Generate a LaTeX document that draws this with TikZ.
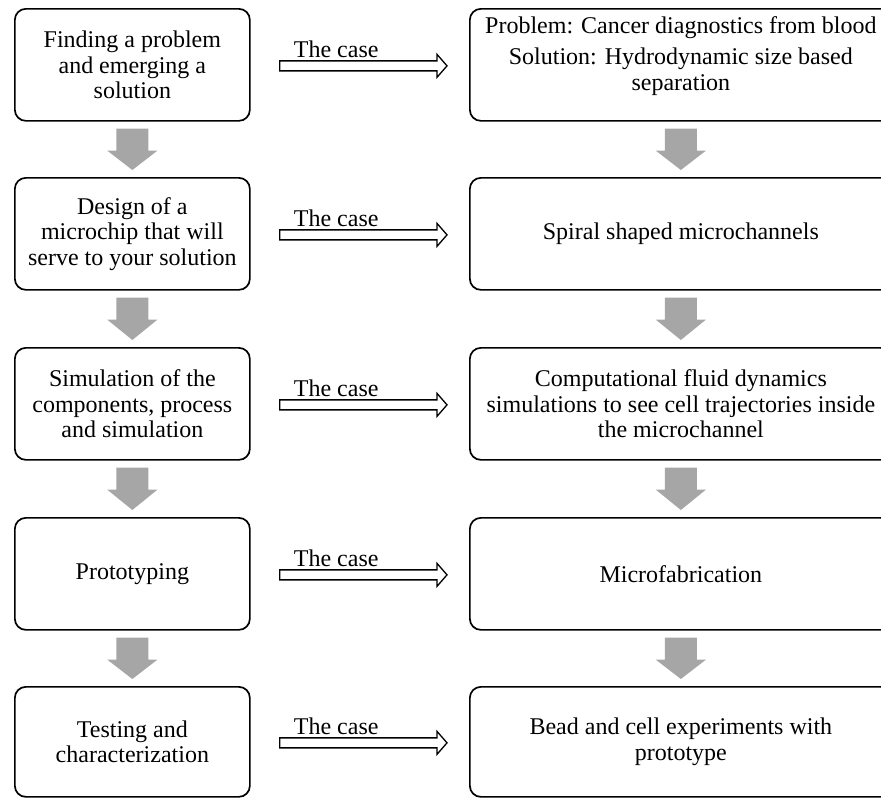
\documentclass[tikz,border=0pt]{standalone}
\usepackage{fontspec}
\setmainfont{Liberation Serif}
\usetikzlibrary{calc}
\definecolor{flowgray}{HTML}{A6A6A6}
\begin{document}
\begin{tikzpicture}[x=1pt,y=-1pt,
  stage/.style={draw=black, line width=1.7pt, rounded corners=11pt, align=center,
    anchor=north west, inner sep=0pt, font=\fontsize{24}{25.5}\selectfont},
  leftstage/.style={stage, minimum width=235pt, minimum height=112pt},
  rightstage/.style={stage, minimum width=422pt, minimum height=112pt},
  flowarrow/.style={fill=flowgray},
  casearrow/.style={draw=black, line width=1.3pt, fill=white, line join=miter},
  caselabel/.style={anchor=base west, inner sep=0pt, font=\fontsize{24}{26}\selectfont}]

\path[use as bounding box, clip] (0,0) rectangle (881,798);

% method steps (left column)
\node[leftstage] (L1) at (14,8)   {Finding a problem\\and emerging a\\solution};
\node[leftstage] (L2) at (14,177) {Design of a\\microchip that will\\serve to your solution};
\node[leftstage] (L3) at (14,347) {Simulation of the\\components, process\\and simulation};
\node[leftstage] (L4) at (14,517) {Prototyping};
\node[leftstage, minimum height=110pt] (L5) at (14,686) {Testing and\\characterization};

% the case study (right column); the first text sits a little high in its box
\node[rightstage, text depth=23pt] (R1) at (469,8) {Problem: Cancer diagnostics from blood\\[6pt]Solution: Hydrodynamic size based\\separation};
\node[rightstage] (R2) at (469,177) {Spiral shaped microchannels};
\node[rightstage] (R3) at (469,347) {Computational fluid dynamics\\simulations to see cell trajectories inside\\the microchannel};
\node[rightstage] (R4) at (469,517) {Microfabrication};
\node[rightstage, minimum height=110pt] (R5) at (469,686) {Bead and cell experiments with\\prototype};

% gray block arrows between consecutive steps
\foreach \a/\b in {L1/L2,L2/L3,L3/L4,L4/L5,R1/R2,R2/R3,R3/R4,R4/R5}{
  \fill[flowarrow] ($(\a.south)+(-16,7)$) -- ($(\a.south)+(16,7)$)
    -- ($(\a.south)+(16,29)$) -- ($(\a.south)+(25,29)$)
    -- ($(\b.north)+(0,-7)$)
    -- ($(\a.south)+(-25,29)$) -- ($(\a.south)+(-16,29)$) -- cycle;
}

% hollow arrows from each step to its case
\foreach \a/\b in {L1/R1,L2/R2,L3/R3,L4/R4,L5/R5}{
  \coordinate (s) at ($(\a.east)+(29,1)$);
  \coordinate (t) at ($(\b.west)+(-22,1)$);
  \draw[casearrow] ($(s)+(0,-5)$) -- ($(t)+(-10,-5)$) -- ($(t)+(-10,-11.5)$)
    -- (t) -- ($(t)+(-10,11.5)$) -- ($(t)+(-10,5)$) -- ($(s)+(0,5)$) -- cycle;
  \node[caselabel] (c\a) at ($(s)+(14,-8)$) {The case};
}
\end{tikzpicture}
\end{document}
